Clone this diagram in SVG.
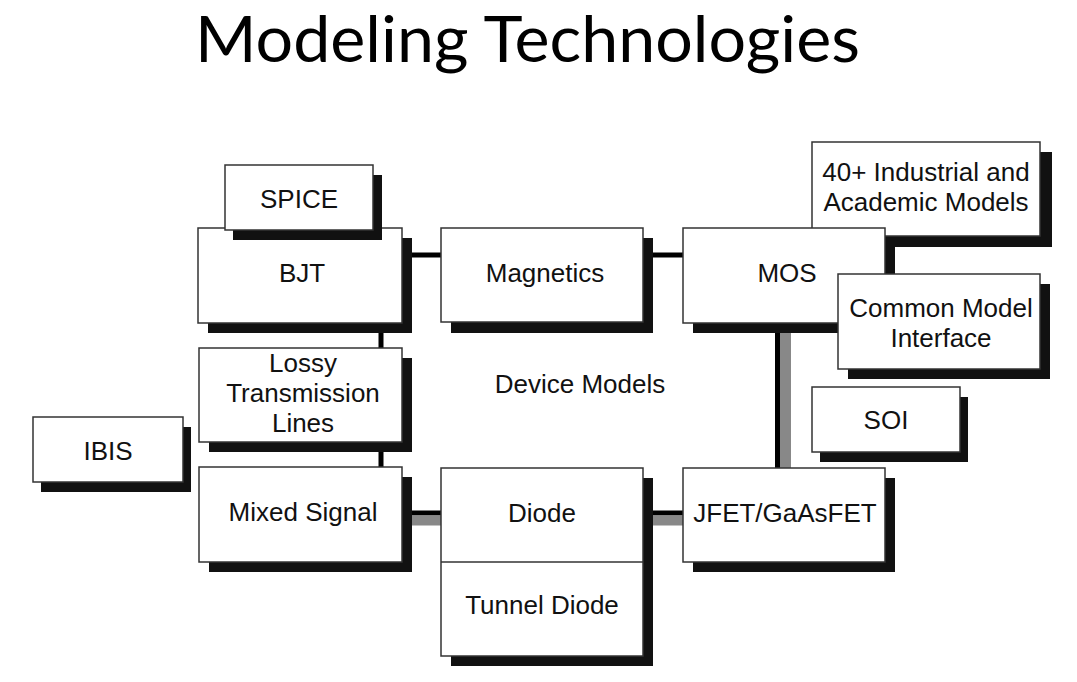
<svg xmlns="http://www.w3.org/2000/svg" width="1077" height="682" viewBox="0 0 1077 682">
<style>
.box{fill:#fff;stroke:#333;stroke-width:1.5}
.sh{fill:#111}
.t{font-family:"Liberation Sans",Arial,sans-serif;font-size:26px;fill:#111;text-anchor:middle}
.title{font-family:Lato,"Open Sans",sans-serif;font-size:63px;fill:#000}
.blk{fill:#000}
.gry{fill:#888}
</style>
<rect width="1077" height="682" fill="#fff"/>
<text class="title" x="195" y="62" textLength="665" lengthAdjust="spacingAndGlyphs">Modeling Technologies</text>
<g id="connectors">
<rect class="blk" x="410" y="252.5" width="33" height="5"/>
<rect class="blk" x="651" y="252.5" width="34" height="5"/>
<rect class="blk" x="378.5" y="331" width="5" height="19"/>
<rect class="blk" x="378.5" y="450" width="5" height="19"/>
<rect class="blk" x="775" y="331" width="5" height="139"/>
<rect class="gry" x="780" y="331" width="11" height="139"/>
<rect class="blk" x="410" y="510.5" width="33" height="5"/>
<rect class="gry" x="410" y="515.5" width="33" height="10"/>
<rect class="blk" x="651" y="510.5" width="34" height="5"/>
<rect class="gry" x="651" y="515.5" width="34" height="10"/>
</g>
<g id="bjt">
<rect class="sh" x="208" y="238" width="204" height="95"/>
<rect class="box" x="198" y="228" width="204" height="95"/>
<text class="t" x="302" y="282">BJT</text>
</g>
<g id="spice">
<rect class="sh" x="233" y="175" width="149" height="65"/>
<rect class="box" x="225" y="165" width="148" height="65"/>
<text class="t" x="299" y="208">SPICE</text>
</g>
<g id="magnetics">
<rect class="sh" x="451" y="238" width="202" height="95"/>
<rect class="box" x="441" y="228" width="202" height="94"/>
<text class="t" x="545" y="282">Magnetics</text>
</g>
<g id="industrial">
<rect class="sh" x="822" y="152" width="230" height="95"/>
<rect class="box" x="812" y="142" width="228" height="94"/>
<text class="t" x="926" y="181">40+ Industrial and</text>
<text class="t" x="926" y="211">Academic Models</text>
</g>
<g id="mos">
<rect class="sh" x="693" y="238" width="202" height="95"/>
<rect class="box" x="683" y="228" width="202" height="95"/>
<text class="t" x="787" y="282">MOS</text>
</g>
<g id="cmi">
<rect class="sh" x="848" y="284" width="202" height="95"/>
<rect class="box" x="838" y="274" width="202" height="95"/>
<text class="t" x="941" y="317">Common Model</text>
<text class="t" x="941" y="347">Interface</text>
</g>
<g id="lossy">
<rect class="sh" x="209" y="358" width="203" height="94"/>
<rect class="box" x="199" y="348" width="203" height="94"/>
<text class="t" x="303" y="372">Lossy</text>
<text class="t" x="303" y="402">Transmission</text>
<text class="t" x="303" y="432">Lines</text>
</g>
<g id="device-models">
<text class="t" x="580" y="393">Device Models</text>
</g>
<g id="soi">
<rect class="sh" x="820" y="397" width="148" height="65"/>
<rect class="box" x="812" y="387" width="148" height="65"/>
<text class="t" x="886" y="429">SOI</text>
</g>
<g id="ibis">
<rect class="sh" x="41" y="427" width="150" height="65"/>
<rect class="box" x="33" y="417" width="150" height="65"/>
<text class="t" x="108" y="460">IBIS</text>
</g>
<g id="mixed">
<rect class="sh" x="209" y="477" width="203" height="95"/>
<rect class="box" x="199" y="467" width="203" height="95"/>
<text class="t" x="303" y="521">Mixed Signal</text>
</g>
<g id="diode">
<rect class="sh" x="451" y="478" width="202" height="188"/>
<rect class="box" x="441" y="468" width="202" height="188"/>
<line x1="441" y1="562" x2="643" y2="562" stroke="#333" stroke-width="1.5"/>
<text class="t" x="542" y="522">Diode</text>
</g>
<g id="tunnel-diode">
<text class="t" x="542" y="614">Tunnel Diode</text>
</g>
<g id="jfet">
<rect class="sh" x="693" y="478" width="202" height="94"/>
<rect class="box" x="683" y="468" width="202" height="94"/>
<text class="t" x="785" y="522">JFET/GaAsFET</text>
</g>
</svg>
